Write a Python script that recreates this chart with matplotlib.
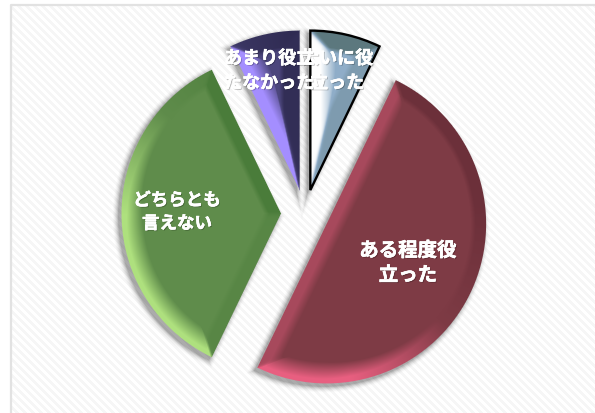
import numpy as np
import matplotlib
matplotlib.use("Agg")
import matplotlib.pyplot as plt
import matplotlib.patheffects as pe

plt.rcParams["font.family"] = ["Noto Sans CJK JP", "DejaVu Sans"]

# answers, clockwise from 12 o'clock
categories = ["大いに役\n立った", "ある程度役\n立った", "どちらとも\n言えない", "あまり役立\nたなかった"]
values = [1, 7, 5, 1]

W, H = 595, 414
RADIUS = 159.5
EXPLODE = 24

# dark / flat / light colour for each slice, width of its bevel
dark = ["#5c787e", "#6c303a", "#4a7c3a", "#2e2a50"]
flat = ["#8fadc8", "#7e3b45", "#5f8c4b", "#4c467c"]
light = ["#ffffff", "#e85f80", "#aee07e", "#a48eff"]
bevel = [18, 13, 13, 18]
label_pos = [(337, 71.5), (408, 264), (177, 213), (269, 71.5)]
label_size = [13, 14, 12.6, 13]
LIGHT = np.array([-0.65, -0.76])  # y goes up here, so this is lower left

fig = plt.figure(figsize=(W / 100, H / 100), dpi=100)
ax = fig.add_axes([0, 0, 1, 1])

X, Y = np.meshgrid(np.arange(W) + 0.5, H - np.arange(H) - 0.5)

# striped background inside the frame
stripes = ((X + Y) % 8 < 4)
bg = np.where(stripes, 0.962, 1.0)
bg[(X < 12) | (Y > 408)] = 1.0
ax.imshow(bg, cmap="gray", vmin=0, vmax=1, extent=(0, W, 0, H), aspect="auto", zorder=0)
ax.plot([11, 11, W], [0, 408.5, 408.5], color="#e2e2e2", lw=1.6, zorder=1)

wedges, _ = ax.pie(
    values,
    radius=RADIUS,
    center=(305, H - 214.5),
    explode=[EXPLODE] * len(values),
    startangle=90,
    counterclock=False,
    colors=flat,
)


def distances(w, dx, dy):
    t1, t2 = np.radians(w.theta1), np.radians(w.theta2)
    rho = np.hypot(dx, dy)
    d_arc = w.r - rho
    d1 = -dx * np.sin(t1) + dy * np.cos(t1)
    d2 = dx * np.sin(t2) - dy * np.cos(t2)
    return rho, d_arc, d1, d2, t1, t2


def to_rgb(c):
    return np.array(matplotlib.colors.to_rgb(c))


for i, w in enumerate(wedges):
    cx, cy = w.center

    # soft shadow, shifted to lower left
    _, a, b, c, _, _ = distances(w, X - cx + 3, Y - cy + 3)
    sd = np.minimum(np.minimum(a, b), c)
    sh = np.zeros((H, W, 4))
    sh[..., 3] = np.clip(1 + sd / 7, 0, 1) ** 2 * 0.33
    ax.imshow(sh, extent=(0, W, 0, H), aspect="auto", zorder=2)

    dx, dy = X - cx, Y - cy
    rho, d_arc, d1, d2, t1, t2 = distances(w, dx, dy)
    inside = np.minimum(np.minimum(d_arc, d1), d2)

    # how much each face is turned to the light
    s_arc = (dx * LIGHT[0] + dy * LIGHT[1]) / np.maximum(rho, 1)
    s1 = np.sin(t1) * LIGHT[0] - np.cos(t1) * LIGHT[1]
    s2 = -np.sin(t2) * LIGHT[0] + np.cos(t2) * LIGHT[1]
    soft = 1.5
    wa = np.exp(-(d_arc - inside) / soft)
    w1 = np.exp(-(d1 - inside) / soft)
    w2 = np.exp(-(d2 - inside) / soft)
    s = (wa * s_arc + w1 * s1 + w2 * s2) / (wa + w1 + w2)
    s = np.clip(s * 1.3, -1, 1)

    lo, mid, hi = to_rgb(dark[i]), to_rgb(flat[i]), to_rgb(light[i])
    face = np.stack([np.interp(s, [-1, 0, 0.85], [lo[k], mid[k], hi[k]]) for k in range(3)], axis=-1)

    # lit faces fade out slowly, shaded ones keep a harder ridge
    fade = 5 + 12 * np.clip(s, 0, 1)
    m = np.clip((bevel[i] + fade / 2 - inside) / fade, 0, 1)[..., None]
    rgb = mid * (1 - m) + face * m

    img = np.dstack([rgb, np.clip(inside + 0.5, 0, 1)])
    ax.imshow(img, extent=(0, W, 0, H), aspect="auto", zorder=3)

    w.set_facecolor("none")
    w.set_zorder(4)
    if i == 0:
        w.set_edgecolor("black")
        w.set_linewidth(1.7)
    else:
        w.set_edgecolor("none")

for name, (px, py), size in zip(categories, label_pos, label_size):
    ax.text(
        px, H - py, name, color="white", fontsize=size, fontweight="bold",
        ha="center", va="center", linespacing=1.37, zorder=6,
        path_effects=[
            pe.withSimplePatchShadow(offset=(0.8, -0.8), shadow_rgbFace="black", alpha=0.25),
            pe.withStroke(linewidth=0.4, foreground="white"),
        ],
    )

ax.set_xlim(0, W)
ax.set_ylim(0, H)
ax.set_aspect("auto")
ax.axis("off")
fig.savefig("out.png", dpi=100)
